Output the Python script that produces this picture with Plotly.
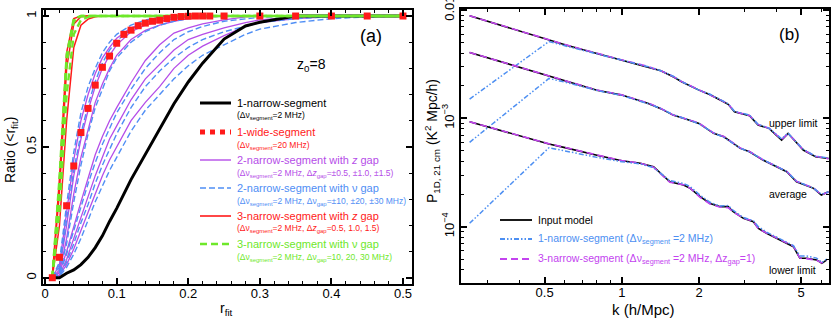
import plotly.graph_objects as go

W, H = 831, 318
def px(x): return x / W
def py(y): return 1 - y / H

# ---------------- Panel (a) data ----------------
r_fit = [0.01, 0.02, 0.03, 0.04, 0.05, 0.06, 0.07, 0.08, 0.09, 0.10, 0.12, 0.14,
         0.16, 0.18, 0.20, 0.22, 0.25, 0.28, 0.30, 0.35, 0.40, 0.45, 0.50]

narrow1 = [0, 0, 0.017, 0.03, 0.05, 0.078, 0.115, 0.16, 0.215, 0.265, 0.375, 0.47,
           0.57, 0.665, 0.748, 0.82, 0.912, 0.962, 0.976, 1.0, 1.0, 1.0, 1.0]

wide_r = [0.01, 0.02, 0.03, 0.04, 0.05, 0.06, 0.07, 0.08, 0.09, 0.10, 0.11, 0.12,
          0.13, 0.14, 0.15, 0.16, 0.17, 0.18, 0.19, 0.20, 0.21, 0.22, 0.23,
          0.25, 0.30, 0.35, 0.40, 0.45, 0.50]
wide1 = [0, 0.078, 0.275, 0.427, 0.555, 0.647, 0.736, 0.804, 0.847, 0.896, 0.93, 0.946,
         0.963, 0.973, 0.98, 0.984, 0.99, 0.995, 0.998, 0.999, 1, 1, 1,
         1, 1, 1, 1, 1, 1]

z2gap = [
    [0, 0.05, 0.25, 0.45, 0.60, 0.70, 0.78, 0.84, 0.88, 0.915, 0.955, 0.975, 0.988, 0.995, 1, 1, 1, 1, 1, 1, 1, 1, 1],
    [0, 0.03, 0.20, 0.39, 0.53, 0.64, 0.73, 0.80, 0.85, 0.89, 0.94, 0.965, 0.98, 0.99, 0.997, 1, 1, 1, 1, 1, 1, 1, 1],
    [0, 0.02, 0.15, 0.32, 0.46, 0.57, 0.67, 0.74, 0.80, 0.85, 0.91, 0.945, 0.965, 0.98, 0.99, 0.995, 1, 1, 1, 1, 1, 1, 1],
    [0, 0.02, 0.10, 0.20, 0.29, 0.38, 0.47, 0.54, 0.60, 0.65, 0.745, 0.83, 0.89, 0.935, 0.955, 0.97, 0.985, 0.997, 1, 1, 1, 1, 1],
    [0, 0.01, 0.07, 0.15, 0.23, 0.31, 0.39, 0.46, 0.53, 0.58, 0.68, 0.76, 0.815, 0.87, 0.91, 0.93, 0.955, 0.975, 0.985, 0.997, 1, 1, 1],
    [0, 0.01, 0.05, 0.11, 0.18, 0.25, 0.32, 0.39, 0.45, 0.50, 0.60, 0.67, 0.73, 0.80, 0.85, 0.885, 0.925, 0.96, 0.975, 0.99, 0.998, 1, 1],
]
nu2gap = [
    [0, 0.06, 0.28, 0.48, 0.63, 0.73, 0.80, 0.86, 0.90, 0.93, 0.965, 0.985, 0.995, 1, 1, 1, 1, 1, 1, 1, 1, 1, 1],
    [0, 0.04, 0.22, 0.41, 0.55, 0.66, 0.75, 0.82, 0.87, 0.905, 0.95, 0.975, 0.99, 0.997, 1, 1, 1, 1, 1, 1, 1, 1, 1],
    [0, 0.02, 0.13, 0.29, 0.43, 0.55, 0.65, 0.72, 0.79, 0.84, 0.90, 0.94, 0.965, 0.98, 0.99, 0.996, 1, 1, 1, 1, 1, 1, 1],
    [0, 0.015, 0.09, 0.18, 0.27, 0.36, 0.44, 0.51, 0.57, 0.63, 0.72, 0.80, 0.86, 0.91, 0.94, 0.96, 0.98, 0.99, 0.995, 1, 1, 1, 1],
    [0, 0.01, 0.06, 0.13, 0.21, 0.28, 0.36, 0.43, 0.49, 0.55, 0.65, 0.73, 0.79, 0.84, 0.88, 0.91, 0.94, 0.96, 0.975, 0.99, 0.997, 1, 1],
    [0, 0.005, 0.04, 0.09, 0.15, 0.22, 0.29, 0.35, 0.41, 0.46, 0.56, 0.64, 0.70, 0.76, 0.81, 0.85, 0.89, 0.93, 0.95, 0.975, 0.99, 0.997, 1],
]
z3gap = [
    [0, 0.38, 0.86, 0.99, 1, 1, 1, 1, 1, 1, 1, 1, 1, 1, 1, 1, 1, 1, 1, 1, 1, 1, 1],
    [0, 0.33, 0.80, 0.97, 0.997, 1, 1, 1, 1, 1, 1, 1, 1, 1, 1, 1, 1, 1, 1, 1, 1, 1, 1],
    [0, 0.20, 0.60, 0.88, 0.965, 0.988, 0.997, 1, 1, 1, 1, 1, 1, 1, 1, 1, 1, 1, 1, 1, 1, 1, 1],
]
nu3gap = [
    [0, 0.38, 0.85, 0.99, 1, 1, 1, 1, 1, 1, 1, 1, 1, 1, 1, 1, 1, 1, 1, 1, 1, 1, 1],
    [0, 0.35, 0.82, 0.98, 1, 1, 1, 1, 1, 1, 1, 1, 1, 1, 1, 1, 1, 1, 1, 1, 1, 1, 1],
    [0, 0.25, 0.70, 0.93, 0.985, 0.997, 1, 1, 1, 1, 1, 1, 1, 1, 1, 1, 1, 1, 1, 1, 1, 1, 1],
]

# ---------------- Panel (b) data (log10 P) ----------------
k_up = [0.255, 0.3, 0.4, 0.52, 0.6, 0.7, 0.8, 1.0, 1.13, 1.27, 1.42, 1.6, 1.71, 2.0, 2.2,
        2.42, 2.6, 2.75, 2.9, 3.15, 3.4, 3.75, 4.2, 4.45, 4.7, 5.1, 5.7, 6.4]
up_model = [-2.053, -2.105, -2.196, -2.28, -2.32, -2.363, -2.40, -2.462, -2.49, -2.524, -2.56,
            -2.62, -2.662, -2.739, -2.78, -2.831, -2.87, -2.94, -2.955, -2.975, -3.062, -3.092,
            -3.2, -3.138, -3.2, -3.292, -3.354, -3.37]
up_3seg = [-2.053, -2.104, -2.195, -2.278, -2.318, -2.362, -2.40, -2.46, -2.49, -2.522, -2.56,
           -2.618, -2.66, -2.737, -2.778, -2.829, -2.868, -2.935, -2.952, -2.973, -3.058, -3.09,
           -3.195, -3.14, -3.198, -3.29, -3.35, -3.372]
up_1seg = [-2.822, -2.70, -2.49, -2.29, -2.33, -2.37, -2.405, -2.465, -2.49, -2.524, -2.56,
           -2.615, -2.66, -2.739, -2.775, -2.83, -2.865, -2.935, -2.95, -2.97, -3.055, -3.09,
           -3.19, -3.135, -3.2, -3.285, -3.35, -3.365]

k_av = [0.255, 0.3, 0.4, 0.52, 0.6, 0.7, 0.8, 1.0, 1.27, 1.42, 1.585, 1.8, 2.0, 2.28, 2.5,
        2.9, 3.15, 3.55, 4.0, 4.4, 4.8, 5.6, 6.0, 6.4]
av_model = [-2.391, -2.44, -2.53, -2.61, -2.655, -2.70, -2.74, -2.785, -2.862, -2.91, -2.97,
            -3.01, -3.046, -3.138, -3.17, -3.277, -3.308, -3.385, -3.446, -3.492, -3.585,
            -3.646, -3.708, -3.677]
av_3seg = [-2.391, -2.44, -2.529, -2.608, -2.654, -2.698, -2.738, -2.783, -2.86, -2.908, -2.968,
           -3.008, -3.044, -3.135, -3.168, -3.274, -3.306, -3.382, -3.444, -3.49, -3.58,
           -3.643, -3.705, -3.68]
av_1seg = [-3.221, -3.087, -2.849, -2.631, -2.665, -2.705, -2.742, -2.788, -2.865, -2.91, -2.965,
           -3.01, -3.05, -3.135, -3.175, -3.275, -3.31, -3.38, -3.445, -3.49, -3.58,
           -3.645, -3.70, -3.68]

k_lo = [0.255, 0.3, 0.4, 0.52, 0.6, 0.7, 0.8, 1.0, 1.18, 1.33, 1.54, 1.74, 1.85, 2.02, 2.21,
        2.42, 2.6, 2.72, 2.98, 3.26, 3.41, 3.67, 4.14, 4.67, 4.95, 5.26, 5.75, 6.03, 6.3]
lo_model = [-3.031, -3.078, -3.161, -3.237, -3.27, -3.31, -3.34, -3.391, -3.415, -3.446, -3.585,
            -3.615, -3.646, -3.723, -3.785, -3.815, -3.815, -3.862, -3.923, -3.954, -4.015,
            -4.061, -4.123, -4.185, -4.292, -4.292, -4.307, -4.338, -4.307]
lo_3seg = [-3.031, -3.077, -3.16, -3.235, -3.268, -3.308, -3.338, -3.39, -3.413, -3.45, -3.59,
           -3.612, -3.645, -3.73, -3.79, -3.82, -3.825, -3.865, -3.92, -3.95, -4.02,
           -4.058, -4.12, -4.18, -4.29, -4.295, -4.31, -4.335, -4.31]
lo_1seg = [-3.969, -3.81, -3.529, -3.271, -3.30, -3.335, -3.36, -3.40, -3.42, -3.455, -3.575,
           -3.60, -3.63, -3.71, -3.775, -3.81, -3.805, -3.85, -3.915, -3.945, -4.0,
           -4.05, -4.11, -4.175, -4.27, -4.27, -4.29, -4.33, -4.30]

BLACK = "#000000"
RED = "#ff1a1a"
GREEN = "#6ee82a"
PURPLE = "#b54de8"
BLUE = "#4f8ef5"
BLUE_B = "#4d8ff2"
PURPLE_B = "#c343ef"
DASHDOTDOT = "5px,2px,1.5px,2px,1.5px,2px"

fig = go.Figure()

def add_a(y, color, width, dash="solid"):
    fig.add_trace(go.Scatter(x=r_fit, y=y, mode="lines", xaxis="x", yaxis="y",
                             line=dict(color=color, width=width, dash=dash),
                             showlegend=False, hoverinfo="skip"))

for c in z2gap:
    add_a(c, PURPLE, 1.3)
for c in nu2gap:
    add_a(c, BLUE, 1.4, "6px,3px")
add_a(narrow1, BLACK, 3)
for c in z3gap:
    add_a(c, RED, 1.5)
for c in nu3gap:
    add_a(c, GREEN, 2.4, "7px,4px")
fig.add_trace(go.Scatter(x=wide_r, y=wide1, mode="markers", xaxis="x", yaxis="y",
                         marker=dict(symbol="square", size=7, color=RED, line=dict(width=0)),
                         showlegend=False, hoverinfo="skip"))

def add_b(k, logp, color, width, dash="solid"):
    fig.add_trace(go.Scatter(x=k, y=[10 ** v for v in logp], mode="lines", xaxis="x2", yaxis="y2",
                             line=dict(color=color, width=width, dash=dash),
                             showlegend=False, hoverinfo="skip"))

for k, m, s3, s1 in [(k_up, up_model, up_3seg, up_1seg),
                     (k_av, av_model, av_3seg, av_1seg),
                     (k_lo, lo_model, lo_3seg, lo_1seg)]:
    add_b(k, m, BLACK, 1.6)
    add_b(k, s3, PURPLE_B, 1.6, "7px,4px")
    add_b(k, s1, BLUE_B, 1.5, DASHDOTDOT)

FA = "Liberation Sans"
FB = "Liberation Sans"

axis_common = dict(showline=True, linecolor="black", linewidth=2, mirror="allticks",
                   ticks="inside", tickcolor="black", tickwidth=1.5, ticklen=6,
                   showgrid=False, zeroline=False, automargin=False, ticklabeloverflow="allow")

fig.update_layout(
    width=W, height=H, margin=dict(l=0, r=0, t=0, b=0, autoexpand=False),
    paper_bgcolor="white", plot_bgcolor="white",
    xaxis=dict(domain=[px(43), px(412)], anchor="y", range=[-0.003, 0.5126],
               tickvals=[0, 0.1, 0.2, 0.3, 0.4, 0.5], ticktext=["0", "0.1", "0.2", "0.3", "0.4", "0.5"],
               tickfont=dict(family=FA, size=13, color="black"), ticklabelstandoff=-4,
               minor=dict(tickvals=[0.02, 0.04, 0.06, 0.08, 0.12, 0.14, 0.16, 0.18, 0.22, 0.24, 0.26,
                                    0.28, 0.32, 0.34, 0.36, 0.38, 0.42, 0.44, 0.46, 0.48],
                          ticks="inside", ticklen=3, tickcolor="black", tickwidth=1.2),
               **axis_common),
    yaxis=dict(domain=[py(284), py(10)], anchor="x", range=[-0.024, 1.023],
               tickvals=[0, 0.5, 1], ticktext=["0", "0.5", "1"], tickangle=-90,
               tickfont=dict(family=FA, size=13, color="black"),
               minor=dict(tickvals=[0.1, 0.2, 0.3, 0.4, 0.6, 0.7, 0.8, 0.9],
                          ticks="inside", ticklen=3, tickcolor="black", tickwidth=1.2),
               **axis_common),
    xaxis2=dict(domain=[px(461), px(829)], anchor="y2", type="log", range=[-0.627, 0.808],
                tickvals=[0.5, 1, 2, 5], ticktext=["0.5", "1", "2", "5"],
                tickfont=dict(family=FB, size=13, color="black"), ticklabelstandoff=-4,
                minor=dict(tickvals=[0.3, 0.4, 0.6, 0.7, 0.8, 0.9, 3, 4, 6],
                           ticks="inside", ticklen=3, tickcolor="black", tickwidth=1.2),
                **axis_common),
    yaxis2=dict(domain=[py(283), py(9)], anchor="x2", type="log", range=[-4.52, -1.99],
                tickvals=[1e-4, 1e-3, 1e-2], ticktext=["10<sup>−4</sup>", "10<sup>−3</sup>", "0.01"],
                tickangle=-90, tickfont=dict(family=FB, size=13, color="black"),
                minor=dict(tickvals=[4e-5, 5e-5, 6e-5, 7e-5, 8e-5, 9e-5,
                                     2e-4, 3e-4, 4e-4, 5e-4, 6e-4, 7e-4, 8e-4, 9e-4,
                                     2e-3, 3e-3, 4e-3, 5e-3, 6e-3, 7e-3, 8e-3, 9e-3],
                           ticks="inside", ticklen=3, tickcolor="black", tickwidth=1.2),
                **axis_common),
)

ann = []
def text(x, y, s, size, color="black", family=FA, anchor="left", angle=0):
    ann.append(dict(x=px(x), y=py(y), xref="paper", yref="paper", text=s, showarrow=False,
                    xanchor=anchor, yanchor="middle", textangle=angle,
                    font=dict(family=family, size=size, color=color)))

shapes = []
def seg(x0, x1, y, color, width, dash="solid"):
    shapes.append(dict(type="line", xref="paper", yref="paper", x0=px(x0), x1=px(x1),
                       y0=py(y), y1=py(y), line=dict(color=color, width=width, dash=dash)))

# Panel (a) texts
text(11, 150, "Ratio (&lt;r<sub>fit</sub>)", 14, angle=-90, anchor="center")
text(227, 309, "r<sub>fit</sub>", 14, anchor="center")
text(371, 36, "(a)", 18, anchor="center")
text(311, 65, "z<sub>0</sub>=8", 14, anchor="center")

SEG = "Δν<sub>segment</sub>"
legend_a = [
    (103, "1-narrow-segment", "(" + SEG + "=2 MHz)", BLACK, 3, "solid"),
    (132, "1-wide-segment", "(" + SEG + "=20 MHz)", RED, 5, "dot"),
    (160, "2-narrow-segment with <i>z</i> gap",
     "(" + SEG + "=2 MHz, Δ<i>z</i><sub>gap</sub>=±0.5, ±1.0, ±1.5)", PURPLE, 1.4, "solid"),
    (188, "2-narrow-segment with ν gap",
     "(" + SEG + "=2 MHz, Δν<sub>gap</sub>=±10, ±20, ±30 MHz)", BLUE, 1.6, "6px,3px"),
    (216, "3-narrow-segment with <i>z</i> gap",
     "(" + SEG + "=2 MHz, Δ<i>z</i><sub>gap</sub>=0.5, 1.0, 1.5)", RED, 1.6, "solid"),
    (244, "3-narrow-segment with ν gap",
     "(" + SEG + "=2 MHz, Δν<sub>gap</sub>=10, 20, 30 MHz)", GREEN, 2.4, "7px,4px"),
]
for y, main, sub, col, w, d in legend_a:
    seg(200, 231, y, col, w, d)
    text(235, y, main, 11, col)
    text(235, y + 13, sub, 8.5, col)

# Panel (b) texts
text(432, 141, "P<sub>1D, 21 cm</sub> (K<sup>2</sup> Mpc/h)", 14, family=FB, angle=-90, anchor="center")
text(643, 309, "k (h/Mpc)", 15, family=FB, anchor="center")
text(789, 35, "(b)", 17, family=FB, anchor="center")
text(767, 123, "upper limit", 10.5, family=FB)
text(767, 194, "average", 10.5, family=FB)
text(767, 270, "lower limit", 10.5, family=FB)

seg(500, 532, 220, BLACK, 1.8)
text(536, 220, "Input model", 10.5, family=FB)
seg(500, 532, 239, BLUE_B, 1.8, DASHDOTDOT)
text(536, 239, "1-narrow-segment (Δν<sub>segment</sub> =2 MHz)", 10.5, BLUE_B, family=FB)
seg(500, 532, 259, PURPLE_B, 1.8, "7px,4px")
text(536, 259, "3-narrow-segment (Δν<sub>segment</sub> =2 MHz, Δz<sub>gap</sub>=1)", 10.5, PURPLE_B, family=FB)

fig.update_layout(annotations=ann, shapes=shapes)
fig.write_html("out.html", config={"displayModeBar": False},
               post_script="document.body.style.margin='0px';document.body.style.overflow='hidden';")
